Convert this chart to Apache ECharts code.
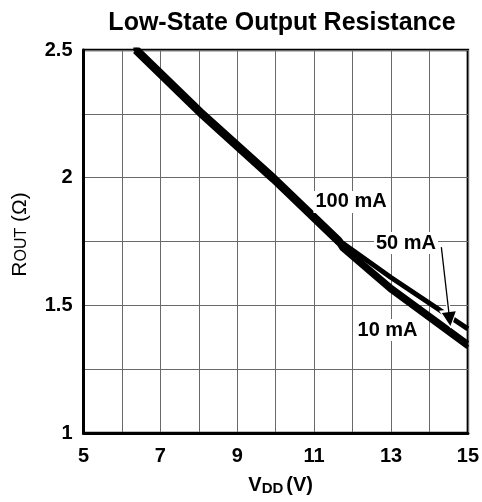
<!DOCTYPE html>
<html>
<head>
<meta charset="utf-8">
<script src="https://cdn.jsdelivr.net/npm/echarts@6/dist/echarts.min.js"></script>
<style>
html,body{margin:0;padding:0;background:#fff;}
#chart{width:482px;height:502px;}
</style>
</head>
<body>
<div id="chart"></div>
<script>
// ---- data ----
var vdd100 = [6.33, 8.07, 9.91, 11.65, 11.72, 13.0, 15.0];
var rout100 = [2.515, 2.261, 2.011, 1.760, 1.746, 1.609, 1.408];
var vdd50 = [6.33, 8.07, 9.91, 11.65, 11.72, 13.0, 15.0];
var rout50 = [2.505, 2.250, 2.000, 1.749, 1.735, 1.573, 1.352];
var vdd10 = [6.33, 8.07, 9.91, 11.65, 11.72, 13.0, 15.0];
var rout10 = [2.495, 2.240, 1.990, 1.739, 1.722, 1.557, 1.336];
var seriesNames = ['100 mA', '50 mA', '10 mA'];
var xTicks = [5, 7, 9, 11, 13, 15];
var yTicks = [1, 1.5, 2, 2.5];
// annotation anchors (data coordinates)
var labelPos = [[11.96, 1.905], [13.39, 1.744], [12.91, 1.403]];
var arrowFrom = [14.31, 1.728];
var arrowTo = [14.525, 1.446];

function pairs(xs, ys) { return xs.map(function (x, i) { return [x, ys[i]]; }); }

var chart = echarts.init(document.getElementById('chart'), null, {renderer: 'canvas'});
var FONT = '"Liberation Sans", Arial, Helvetica, sans-serif';

var labelStyle = {
  show: true, position: 'inside', color: '#000', fontFamily: FONT,
  fontWeight: 'bold', fontSize: 20, backgroundColor: '#fff', padding: [1, 2]
};

function arrowSeries(name, color, lw, size, z) {
  return {
    name: name, type: 'line', data: [], z: z, symbol: 'none',
    markLine: {
      silent: true, animation: false,
      symbol: ['none', 'triangle'], symbolSize: size,
      label: {show: false},
      itemStyle: {color: color},
      lineStyle: {color: color, width: lw, type: 'solid', opacity: 1},
      data: [[{coord: arrowFrom}, {coord: arrowTo}]]
    }
  };
}

chart.setOption({
  animation: false,
  backgroundColor: '#fff',
  title: {
    text: 'Low-State Output Resistance',
    left: 277, top: 6, textAlign: 'center',
    textStyle: {fontFamily: FONT, fontWeight: 'bold', fontSize: 25, color: '#000'}
  },
  grid: {
    left: 83.5, right: 12.5, top: 50, bottom: 69,
    show: true, borderColor: '#000', borderWidth: 2.5, backgroundColor: 'transparent'
  },
  xAxis: {
    type: 'value', min: 5, max: 15, interval: 1,
    name: '{v|V}{s|DD}{v|(V)}',
    nameLocation: 'middle', nameGap: 42,
    nameTextStyle: {
      padding: [0, 0, 0, 10],
      rich: {
        v: {fontFamily: FONT, fontWeight: 'bold', fontSize: 20, color: '#000', lineHeight: 22, verticalAlign: 'top'},
        s: {fontFamily: FONT, fontWeight: 'bold', fontSize: 15, color: '#000', lineHeight: 22, verticalAlign: 'top', padding: [6, 3, 0, 0]}
      }
    },
    axisLine: {show: true, onZero: false, lineStyle: {color: '#000', width: 3}},
    axisTick: {show: false},
    splitLine: {show: true, lineStyle: {color: '#6a6a6a', width: 1}},
    axisLabel: {
      margin: 13, color: '#000', fontFamily: FONT, fontWeight: 'bold', fontSize: 20,
      formatter: function (v) { return xTicks.indexOf(v) >= 0 ? String(v) : ''; }
    }
  },
  yAxis: {
    type: 'value', min: 1, max: 2.5, interval: 0.25,
    name: '{r|R}{s|OUT}{r| (Ω)}',
    nameLocation: 'middle', nameGap: 50, nameRotate: 90,
    nameTextStyle: {
      padding: [0, 0, 0, 14],
      rich: {
        r: {fontFamily: FONT, fontSize: 21, color: '#000', lineHeight: 24, verticalAlign: 'top'},
        s: {fontFamily: FONT, fontSize: 16, color: '#000', lineHeight: 24, verticalAlign: 'top', padding: [4, 0, 0, 0]}
      }
    },
    axisLine: {show: true, onZero: false, lineStyle: {color: '#000', width: 3}},
    axisTick: {show: false},
    splitLine: {show: true, lineStyle: {color: '#6a6a6a', width: 1}},
    axisLabel: {
      margin: 11, color: '#000', fontFamily: FONT, fontWeight: 'bold', fontSize: 20,
      formatter: function (v) {
        for (var i = 0; i < yTicks.length; i++) { if (Math.abs(yTicks[i] - v) < 1e-9) return String(yTicks[i]); }
        return '';
      }
    }
  },
  series: [
    {
      name: 'annotations', type: 'line', data: [], z: 1, symbol: 'none',
      markPoint: {
        silent: true, symbol: 'circle', symbolSize: 0, animation: false,
        data: seriesNames.map(function (n, i) {
          return {coord: labelPos[i], label: Object.assign({}, labelStyle, {formatter: n})};
        })
      }
    },
    {
      name: seriesNames[0], type: 'line', data: pairs(vdd100, rout100),
      symbol: 'none', clip: true, z: 3,
      lineStyle: {color: '#000', width: 5, cap: 'butt', join: 'round'}
    },
    {
      name: seriesNames[1], type: 'line', data: pairs(vdd50, rout50),
      symbol: 'none', clip: true, z: 3,
      lineStyle: {color: '#000', width: 4.5, cap: 'butt', join: 'round'}
    },
    {
      name: seriesNames[2], type: 'line', data: pairs(vdd10, rout10),
      symbol: 'none', clip: true, z: 3,
      lineStyle: {color: '#000', width: 4.5, cap: 'butt', join: 'round'}
    },
    arrowSeries('arrowHalo', '#fff', 4, 19, 4),
    arrowSeries('arrow', '#000', 1.3, 14, 5)
  ]
});
</script>
</body>
</html>
